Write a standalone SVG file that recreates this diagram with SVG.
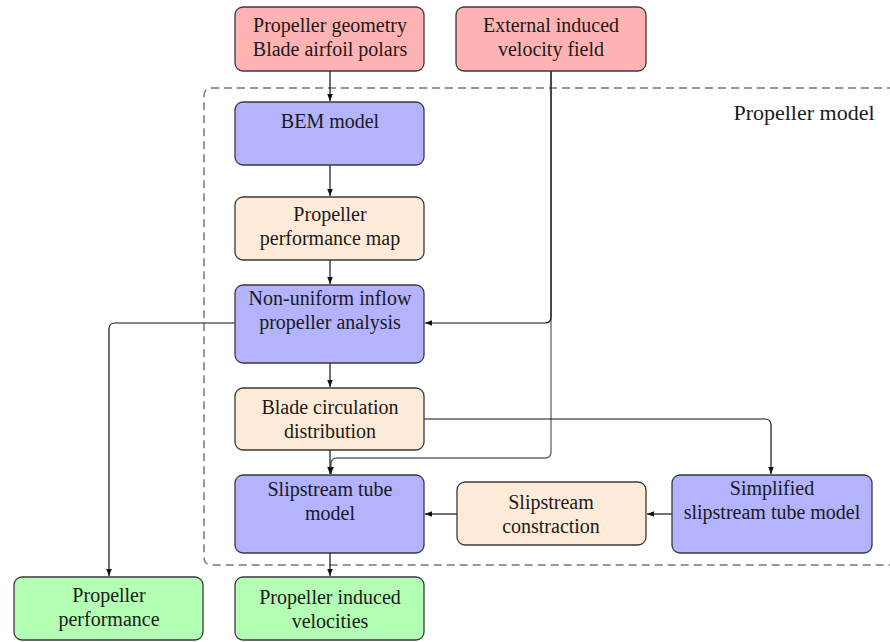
<svg xmlns="http://www.w3.org/2000/svg" width="890" height="642" viewBox="0 0 890 642">
<defs>
<style>
.box{stroke:#3a3a3a;stroke-width:1.3}
.red{fill:#ffb3b3}
.blue{fill:#b3b3ff}
.peach{fill:#ffebd7}
.green{fill:#b3ffb3}
text{font-family:"Liberation Serif","DejaVu Serif",serif;font-size:20px;fill:#1a1a1a;text-anchor:middle}
.conn{fill:none;stroke:#111;stroke-width:1.2}
.conn2{fill:none;stroke:#666;stroke-width:1.3}
.frame{fill:none;stroke:#777;stroke-width:1.5;stroke-dasharray:8 5}
</style>
<marker id="arr" viewBox="0 0 10 10" refX="10" refY="5" markerWidth="7" markerHeight="7" markerUnits="userSpaceOnUse" orient="auto">
<path d="M0,1 L10,5 L0,9 Z" fill="#111"/>
</marker>
</defs>
<rect width="890" height="642" fill="#fff"/>

<g id="frame">
<path class="frame" d="M895,88 H212 Q204,88 204,96 V557 Q204,565 212,565 H895"/>
<text x="804" y="120" style="font-size:22px">Propeller model</text>
</g>

<g id="connectors">
<path class="conn2" d="M551,71 V452 Q551,458 545,458 H337 Q331,458 331,464 V474" marker-end="url(#arr)"/>
<path class="conn" d="M551,71 V317 Q551,323 545,323 H425" marker-end="url(#arr)"/>
<path class="conn" d="M330,71 V101" marker-end="url(#arr)"/>
<path class="conn" d="M330,165 V196" marker-end="url(#arr)"/>
<path class="conn" d="M330,260 V284" marker-end="url(#arr)"/>
<path class="conn" d="M235,323 H115 Q109,323 109,329 V576" marker-end="url(#arr)"/>
<path class="conn" d="M330,363 V387" marker-end="url(#arr)"/>
<path class="conn" d="M330,450 V474" marker-end="url(#arr)"/>
<path class="conn" d="M424,419 H765 Q771,419 771,425 V474" marker-end="url(#arr)"/>
<path class="conn" d="M672,514 H647" marker-end="url(#arr)"/>
<path class="conn" d="M457,514 H425" marker-end="url(#arr)"/>
<path class="conn" d="M330,553 V576" marker-end="url(#arr)"/>
</g>

<g id="geometry">
<rect class="box red" x="235" y="7" width="189" height="64" rx="8"/>
<text x="330" y="32">Propeller geometry</text>
<text x="330" y="56">Blade airfoil polars</text>
</g>
<g id="external">
<rect class="box red" x="456" y="7" width="190" height="64" rx="8"/>
<text x="551" y="32">External induced</text>
<text x="551" y="56">velocity field</text>
</g>
<g id="bem">
<rect class="box blue" x="235" y="102" width="189" height="63" rx="8"/>
<text x="330" y="128">BEM model</text>
</g>
<g id="perfmap">
<rect class="box peach" x="235" y="197" width="189" height="63" rx="8"/>
<text x="330" y="221">Propeller</text>
<text x="330" y="245">performance map</text>
</g>
<g id="nonuniform">
<rect class="box blue" x="235" y="285" width="189" height="78" rx="8"/>
<text x="330" y="305">Non-uniform inflow</text>
<text x="330" y="329">propeller analysis</text>
</g>
<g id="blade">
<rect class="box peach" x="235" y="388" width="189" height="62" rx="8"/>
<text x="330" y="414">Blade circulation</text>
<text x="330" y="438">distribution</text>
</g>
<g id="tube">
<rect class="box blue" x="235" y="475" width="189" height="78" rx="8"/>
<text x="330" y="496">Slipstream tube</text>
<text x="330" y="520">model</text>
</g>
<g id="contraction">
<rect class="box peach" x="457" y="482" width="189" height="63" rx="8"/>
<text x="551" y="509">Slipstream</text>
<text x="551" y="533">constraction</text>
</g>
<g id="simplified">
<rect class="box blue" x="672" y="475" width="200" height="78" rx="8"/>
<text x="772" y="495">Simplified</text>
<text x="772" y="519">slipstream tube model</text>
</g>
<g id="performance">
<rect class="box green" x="14" y="577" width="189" height="63" rx="8"/>
<text x="109" y="602">Propeller</text>
<text x="109" y="626">performance</text>
</g>
<g id="induced">
<rect class="box green" x="235" y="577" width="189" height="63" rx="8"/>
<text x="330" y="604">Propeller induced</text>
<text x="330" y="628">velocities</text>
</g>
</svg>
